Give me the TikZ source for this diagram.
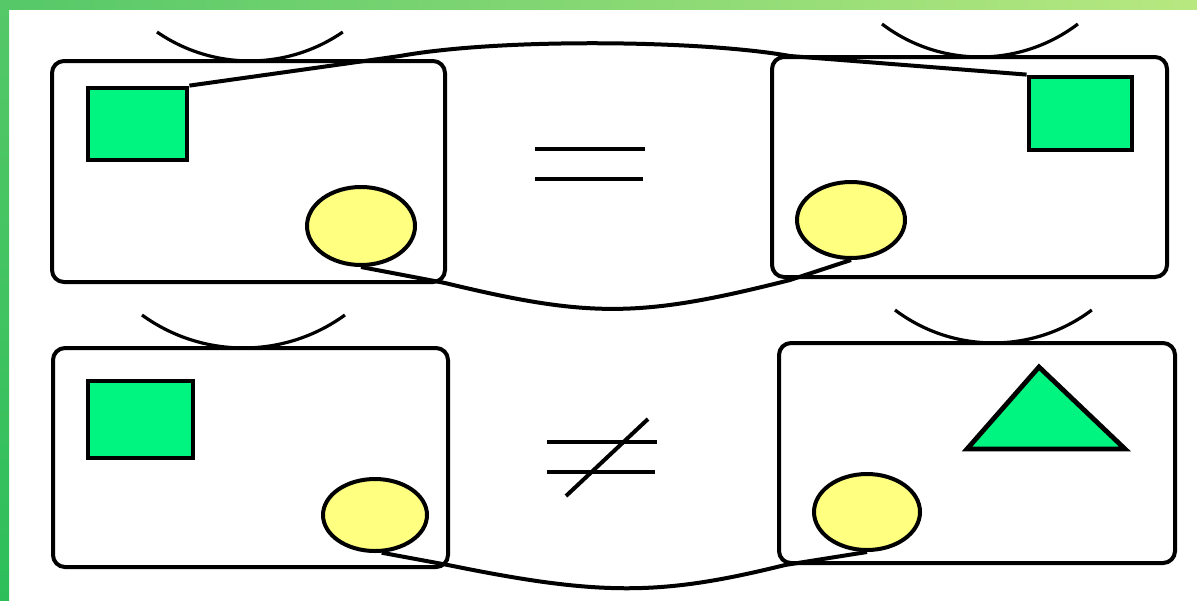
\documentclass[tikz,border=0pt]{standalone}
\usepackage{tikz}
\usetikzlibrary{positioning,shapes.geometric,calc}
\definecolor{frameDark}{HTML}{2DBE5A}
\definecolor{frameMid}{HTML}{55C868}
\definecolor{frameLight}{HTML}{B8E880}
\definecolor{shapeGreen}{HTML}{00F580}
\definecolor{shapeYellow}{HTML}{FFFF80}

\begin{document}
\begin{tikzpicture}[x=0.5pt, y=-0.5pt,
    card/.style={draw, line width=2pt, rounded corners=6pt, inner sep=0pt},
    sq/.style={draw, fill=shapeGreen, line width=2.4pt, inner sep=0pt},
    blob/.style={ellipse, draw, fill=shapeYellow, line width=2pt, inner sep=0pt},
    link/.style={line width=2pt, line join=round},
    smile/.style={line width=1.6pt}]
    \useasboundingbox (0,0) rectangle (1197,600);
    \fill[white] (0,0) rectangle (1197,600);
    % green frame
    \shade[left color=frameMid, right color=frameLight] (0,0) rectangle (1197,9);
    \shade[top color=frameMid, bottom color=frameDark] (0,9) rectangle (9,600);

    % cards
    \node[card, minimum width=196.5pt, minimum height=110.5pt] (boxA) at (248.5,171.5) {};
    \node[card, minimum width=197.5pt, minimum height=110pt] (boxB) at (969.5,167) {};
    \node[card, minimum width=197.5pt, minimum height=109.5pt] (boxC) at (250.5,457.5) {};
    \node[card, minimum width=198pt, minimum height=110pt] (boxD) at (977,453) {};

    % arcs over the cards
    \foreach \x/\y/\a/\r in {157/32/124.6/163.6, 882/24/127.2/162, 142/315/126/172.6, 895/310/127/163.5} {
        \draw[smile] (\x,\y) arc[start angle=\a, end angle=180-\a, radius=\r];
    }

    % shapes
    \node[sq, minimum width=49.5pt, minimum height=36pt] (sqA) at (137.5,124) {};
    \node[sq, minimum width=51.5pt, minimum height=36.5pt] (sqB) at (1080.5,113.5) {};
    \node[sq, minimum width=52.5pt, minimum height=38.5pt] (sqC) at (140.5,419.5) {};
    \draw[sq, line join=miter] (1039,367) -- (1125,449) -- (967,449) -- cycle;

    \node[blob, minimum width=54pt, minimum height=39pt] (cA) at (361,226) {};
    \node[blob, minimum width=54pt, minimum height=38pt] (cB) at (851,220) {};
    \node[blob, minimum width=52pt, minimum height=36pt] (cC) at (375,515) {};
    \node[blob, minimum width=53pt, minimum height=38pt] (cD) at (867,512) {};

    % connectors
    \draw[link] (sqA.north east) -- (400,56) .. controls (500,38) and (700,40) .. (790,56) -- (sqB.north west);
    \draw[link] (cA.south) -- (445,283) .. controls (590,318) and (640,318) .. (790,280) -- (cB.south);
    \draw[link] (cC.-80) -- (448,565) .. controls (600,596) and (660,596) .. (785,565) -- (cD.south);

    % signs
    \draw[link] (535,149) -- (645,149);
    \draw[link] (535,179) -- (643,179);
    \draw[link] (547,442) -- (657,442);
    \draw[link] (547,472) -- (655,472);
    \draw[link] (566,496) -- (648,419);
\end{tikzpicture}
\end{document}
